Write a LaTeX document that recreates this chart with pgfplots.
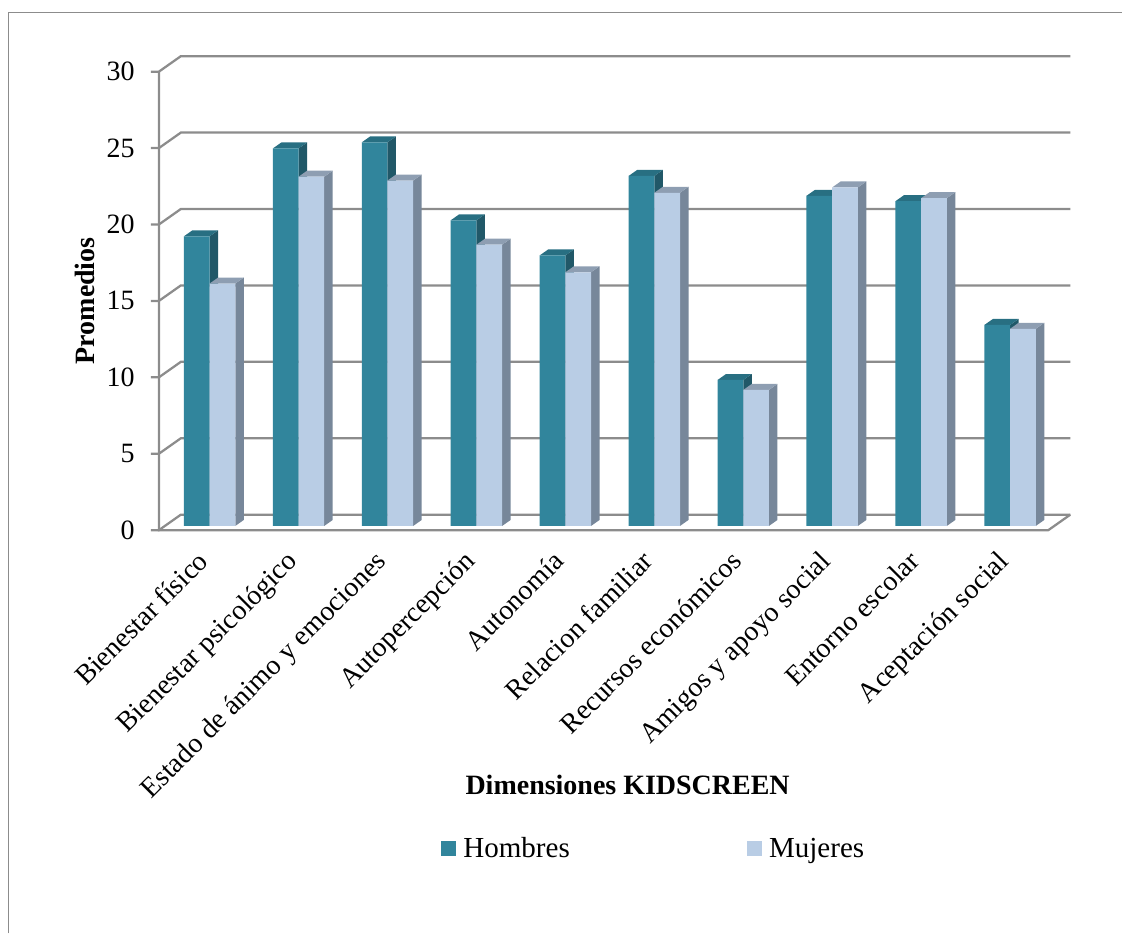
\documentclass[border=0pt]{standalone}
\usepackage{pgfplots}
\usepackage{pgfplotstable}
\usepackage{fontspec}
\setmainfont{Liberation Serif}
\pgfplotsset{compat=1.18}
\definecolor{hfront}{HTML}{31859C}
\definecolor{htop}{HTML}{286F82}
\definecolor{hside}{HTML}{215868}
\definecolor{mfront}{HTML}{B9CDE5}
\definecolor{mtop}{HTML}{8E9EB2}
\definecolor{mside}{HTML}{77879A}
\definecolor{gridc}{HTML}{8C8C8C}
\newcommand{\chartfont}{\fontsize{21}{25}\selectfont}
\newcommand{\keyfont}{\fontsize{21.8}{26}\selectfont}
\newcommand{\swatch}[1]{\textcolor{#1}{\rule[1.5pt]{11.25pt}{11.25pt}}\hspace{5.25pt}}
% Averages per dimension
\pgfplotstableread{
i H M
0 18.95 15.86
1 24.70 22.85
2 25.10 22.60
3 20.00 18.40
4 17.70 16.60
5 22.90 21.80
6 9.55 8.90
7 21.60 22.15
8 21.25 21.45
9 13.15 12.90
}\kidscreen
\begin{document}
\begin{tikzpicture}
\path (0,0) rectangle (842.25pt,700.5pt);
\draw[color=gridc,line width=1.1pt] (6.4pt,0) -- (6.4pt,691pt) -- (842.25pt,691pt);
\begin{axis}[
  at={(123.525pt,305.775pt)}, anchor=south west,
  scale only axis, width=667.5pt, height=344.1pt,
  clip=false,
  xmin=0, xmax=10, ymin=0, ymax=30,
  axis lines=none,
  hide axis=false,
  axis line style={draw=none},
  tick style={draw=none},
  major tick length=0pt,
  ytick={0,5,...,30},
  xtick={0.5,1.5,...,9.5},
  xticklabels={Bienestar físico,Bienestar psicológico,Estado de ánimo y emociones,Autopercepción,Autonomía,Relacion familiar,Recursos económicos,Amigos y apoyo social,Entorno escolar,Aceptación social},
  /pgf/number format/assume math mode=true,
  yticklabel style={font=\chartfont,anchor=east,inner sep=0pt,xshift=-22.3pt,yshift=-3.1pt,text=black},
  xticklabel style={font=\chartfont,rotate=45,anchor=north east,inner sep=0pt,xshift=-19.2pt,yshift=-5.2pt,text=black},
  xlabel={Dimensiones KIDSCREEN},
  ylabel={Promedios},
  xlabel style={font=\chartfont\bfseries,at={(axis description cs:0.5206,-0.564)},anchor=center},
  ylabel style={font=\chartfont\bfseries,at={(axis description cs:-0.0896,0.491)},anchor=center},
  legend columns=2,
  legend style={at={(axis description cs:0.3082,-0.7086)},anchor=west,draw=none,fill=none,inner sep=0pt,outer sep=0pt,font=\keyfont,
    nodes={text height=15pt,text depth=5pt},
    /tikz/every even column/.append style={column sep=129pt}},
  gridline/.style={color=gridc,line width=1.7pt,forget plot,no marks},
]
% Walls and floor of the box
\pgfplotsforeachungrouped \k in {0,5,...,30}{
  \pgfmathsetmacro{\yf}{\k-0.275}
  \pgfmathsetmacro{\yb}{\k+0.739}
  \addplot[gridline] coordinates {(-0.154,\yf) (-0.064,\yf) (0.183,\yb) (10.183,\yb)};
}
\addplot[gridline] coordinates {(-0.064,29.725) (-0.064,-0.275) (9.936,-0.275) (10.183,0.739)};
% Hombres: side and top of every bar, then the front faces
\pgfplotsforeachungrouped \n in {0,...,9}{
  \pgfplotstablegetelem{\n}{H}\of\kidscreen
  \pgfmathsetmacro{\v}{\pgfplotsretval}
  \pgfmathsetmacro{\xa}{\n+0.217}
  \pgfmathsetmacro{\xb}{\n+0.506}
  \pgfmathsetmacro{\xc}{\n+0.6015}
  \pgfmathsetmacro{\xd}{\n+0.3125}
  \pgfmathsetmacro{\vt}{\v+0.392}
  \addplot[fill=hside,draw=none,forget plot] coordinates {(\xb,0) (\xc,0.392) (\xc,\vt) (\xb,\v)} --cycle;
  \addplot[fill=htop,draw=none,forget plot] coordinates {(\xa,\v) (\xb,\v) (\xc,\vt) (\xd,\vt)} --cycle;
}
\addplot[ybar,bar shift=0pt,bar width=0.289,fill=hfront,draw=none,forget plot]
  table[x expr=\thisrow{i}+0.3615,y=H] {\kidscreen};
% Mujeres
\pgfplotsforeachungrouped \n in {0,...,9}{
  \pgfplotstablegetelem{\n}{M}\of\kidscreen
  \pgfmathsetmacro{\v}{\pgfplotsretval}
  \pgfmathsetmacro{\xa}{\n+0.506}
  \pgfmathsetmacro{\xb}{\n+0.795}
  \pgfmathsetmacro{\xc}{\n+0.8905}
  \pgfmathsetmacro{\xd}{\n+0.6015}
  \pgfmathsetmacro{\vt}{\v+0.392}
  \addplot[fill=mside,draw=none,forget plot] coordinates {(\xb,0) (\xc,0.392) (\xc,\vt) (\xb,\v)} --cycle;
  \addplot[fill=mtop,draw=none,forget plot] coordinates {(\xa,\v) (\xb,\v) (\xc,\vt) (\xd,\vt)} --cycle;
}
\addplot[ybar,bar shift=0pt,bar width=0.289,fill=mfront,draw=none,forget plot]
  table[x expr=\thisrow{i}+0.6505,y=M] {\kidscreen};
% Key: the colour squares are set with the entry texts
\addlegendimage{legend image code/.code={}}
\addlegendentry{\swatch{hfront}Hombres}
\addlegendimage{legend image code/.code={}}
\addlegendentry{\swatch{mfront}Mujeres}
\end{axis}
\end{tikzpicture}
\end{document}
